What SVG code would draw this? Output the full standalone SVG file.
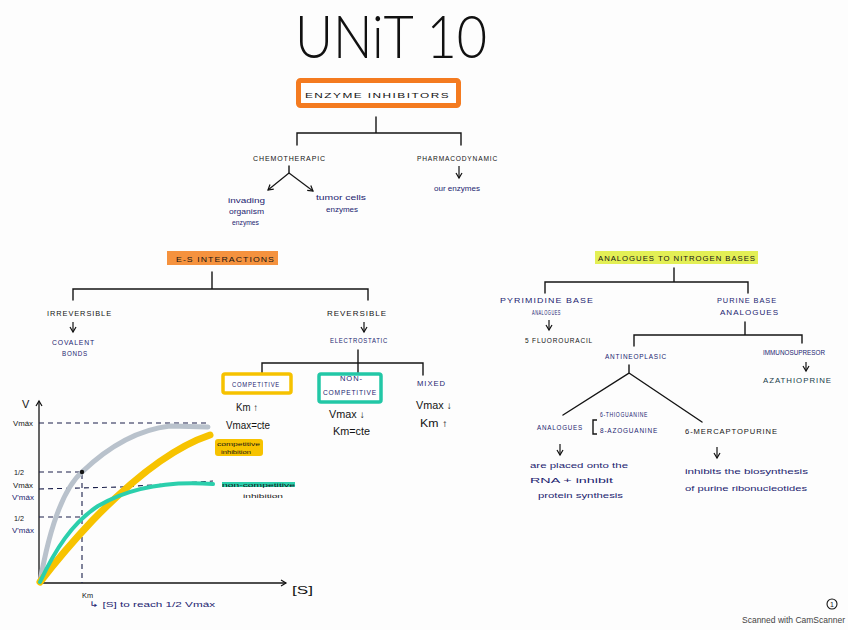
<svg xmlns="http://www.w3.org/2000/svg" width="848" height="630" viewBox="0 0 848 630">
<defs>
<marker id="ah" markerWidth="8" markerHeight="8" refX="6" refY="4" orient="auto" markerUnits="userSpaceOnUse">
<path d="M1,1 L6,4 L1,7" fill="none" stroke="#111" stroke-width="1.2"/>
</marker>
<style>
text{font-family:"Liberation Sans",Arial,sans-serif;}
.k{fill:#141414;}
.b{fill:#1c2470;}
.cap{font-size:8px;letter-spacing:1px;}
.hw{font-size:8px;}
.mid{font-size:10px;}
.ln{fill:none;stroke:#141414;stroke-width:1.4;stroke-linecap:round;}
.ar{fill:none;stroke:#141414;stroke-width:1.2;marker-end:url(#ah);}
.dash{fill:none;stroke:#1a1f4a;stroke-width:1.1;stroke-dasharray:5 4;}
</style>
</defs>
<rect width="848" height="630" fill="#fdfdfd"/>

<g id="title"><text x="391" y="58" fill="#111" font-size="60" font-weight="300" style="font-family:Lato,'Open Sans','Liberation Sans',sans-serif" text-anchor="middle" textLength="192" lengthAdjust="spacingAndGlyphs">UNiT 10</text></g>

<g id="connectors">
<path class="ln" d="M376,117 V133 M297,145 V133 H461 V145"/>
<path class="ln" d="M289,166 V173"/>
<path class="ar" d="M289,173 L268,190"/>
<path class="ar" d="M289,173 L313,191"/>
<path class="ar" d="M459,166 V178"/>
<path class="ln" d="M212,272 V289 M73,300 V289 H368 V300"/>
<path class="ar" d="M73,322 V332"/>
<path class="ar" d="M364,322 V332"/>
<path class="ln" d="M358,350 V373 M262,373 V363 H423 V375"/>
<path class="ln" d="M674,268 V282 M545,293 V282 H748 V293"/>
<path class="ar" d="M549,320 V330"/>
<path class="ln" d="M745,322 V335 M634,346 V335 H802 V343"/>
<path class="ar" d="M806,362 V371"/>
<path class="ln" d="M629,365 V373 L563,415 M629,373 L702,422"/>
<path class="ar" d="M560,444 V455"/>
<path class="ar" d="M717,447 V458"/>
</g>

<g id="enzyme-inhibitors">
<rect x="298.5" y="80.5" width="160" height="25" rx="2" fill="#fff" stroke="#f47b20" stroke-width="5"/>
<text x="305" y="98" class="k cap" textLength="145" lengthAdjust="spacingAndGlyphs">ENZYME INHIBITORS</text>
</g>
<g id="chemotherapic"><text x="253" y="161" class="k cap" textLength="73" lengthAdjust="spacingAndGlyphs">CHEMOTHERAPIC</text></g>
<g id="pharmacodynamic"><text x="417" y="161" class="k cap" textLength="81" lengthAdjust="spacingAndGlyphs">PHARMACODYNAMIC</text></g>
<g id="invading">
<text x="228" y="203" class="b hw" textLength="37" lengthAdjust="spacingAndGlyphs">invading</text>
<text x="229" y="214" class="b hw" textLength="35" lengthAdjust="spacingAndGlyphs">organism</text>
<text x="232" y="225" class="b hw" textLength="27" lengthAdjust="spacingAndGlyphs">enzymes</text>
</g>
<g id="tumor">
<text x="316" y="200" class="b hw" textLength="50" lengthAdjust="spacingAndGlyphs">tumor cells</text>
<text x="326" y="212" class="b hw" textLength="32" lengthAdjust="spacingAndGlyphs">enzymes</text>
</g>
<g id="our-enzymes"><text x="434" y="191" class="b hw" textLength="46" lengthAdjust="spacingAndGlyphs">our enzymes</text></g>

<g id="es-interactions">
<rect x="167" y="251" width="111" height="14" fill="#f5923e"/>
<text x="176" y="262" class="k cap" textLength="99" lengthAdjust="spacingAndGlyphs">E-S INTERACTIONS</text>
</g>
<g id="irreversible"><text x="47" y="316" class="k cap" textLength="65" lengthAdjust="spacingAndGlyphs">IRREVERSIBLE</text></g>
<g id="covalent">
<text x="52" y="345" class="b cap" font-size="7" textLength="43" lengthAdjust="spacingAndGlyphs">COVALENT</text>
<text x="62" y="356" class="b cap" font-size="7" textLength="26" lengthAdjust="spacingAndGlyphs">BONDS</text>
</g>
<g id="reversible"><text x="327" y="316" class="k cap" textLength="60" lengthAdjust="spacingAndGlyphs">REVERSIBLE</text></g>
<g id="electrostatic"><text x="330" y="343" class="b cap" font-size="7" textLength="58" lengthAdjust="spacingAndGlyphs">ELECTROSTATIC</text></g>

<g id="competitive">
<rect x="223" y="374" width="68" height="19" rx="2" fill="#fff" stroke="#f6c200" stroke-width="3.5"/>
<text x="232" y="387" class="b cap" font-size="7" textLength="48" lengthAdjust="spacingAndGlyphs">COMPETITIVE</text>
<text x="236" y="411" class="k mid" textLength="22" lengthAdjust="spacingAndGlyphs">Km ↑</text>
<text x="226" y="429" class="k mid" textLength="44" lengthAdjust="spacingAndGlyphs">Vmax=cte</text>
</g>
<g id="non-competitive">
<rect x="319" y="374" width="62" height="28" rx="2" fill="#fff" stroke="#22c7a6" stroke-width="3.5"/>
<text x="340" y="381" class="b cap" font-size="7" textLength="23" lengthAdjust="spacingAndGlyphs">NON-</text>
<text x="323" y="395" class="b cap" font-size="7" textLength="54" lengthAdjust="spacingAndGlyphs">COMPETITIVE</text>
<text x="329" y="418" class="k mid" textLength="36" lengthAdjust="spacingAndGlyphs">Vmax ↓</text>
<text x="333" y="435" class="k mid" textLength="37" lengthAdjust="spacingAndGlyphs">Km=cte</text>
</g>
<g id="mixed">
<text x="417" y="386" class="b cap" font-size="7" textLength="29" lengthAdjust="spacingAndGlyphs">MIXED</text>
<text x="416" y="409" class="k mid" textLength="36" lengthAdjust="spacingAndGlyphs">Vmax ↓</text>
<text x="420" y="427" class="k mid" textLength="28" lengthAdjust="spacingAndGlyphs">Km ↑</text>
</g>

<g id="graph">
<path d="M39,583 V401" fill="none" stroke="#141414" stroke-width="1.3" marker-end="url(#ah)"/>
<path d="M39,583 H286" fill="none" stroke="#141414" stroke-width="1.3" marker-end="url(#ah)"/>
<path class="dash" d="M39,423 H210"/>
<path class="dash" d="M39,472 H82 V583"/>
<path class="dash" d="M39,489 L120,487 L213,481"/>
<path class="dash" d="M39,517 H82"/>
<path d="M40,582 C50,525 64,488 82,472 C105,450 135,430 170,426 L208,427" fill="none" stroke="#b9c2cc" stroke-width="5" stroke-linecap="round"/>
<path d="M40,582 C60,556 76,538 92,521 C122,490 165,450 210,435" fill="none" stroke="#f7c300" stroke-width="7" stroke-linecap="round"/>
<path d="M40,582 C55,550 72,523 98,506 C132,486 172,481 213,484" fill="none" stroke="#2bcfac" stroke-width="4" stroke-linecap="round"/>
<circle cx="82" cy="472" r="2.2" fill="#141414"/>
<text x="22" y="408" class="k" font-size="11">V</text>
<text x="13" y="426" class="k hw" font-size="7" textLength="20" lengthAdjust="spacingAndGlyphs">Vmáx</text>
<text x="14" y="475" class="k hw" font-size="7" textLength="10" lengthAdjust="spacingAndGlyphs">1/2</text>
<text x="13" y="488" class="k hw" font-size="7" textLength="20" lengthAdjust="spacingAndGlyphs">Vmáx</text>
<text x="12" y="500" class="b hw" font-size="7" textLength="22" lengthAdjust="spacingAndGlyphs">V'máx</text>
<text x="14" y="521" class="k hw" font-size="7" textLength="10" lengthAdjust="spacingAndGlyphs">1/2</text>
<text x="12" y="533" class="b hw" font-size="7" textLength="22" lengthAdjust="spacingAndGlyphs">V'máx</text>
<text x="82" y="598" class="k hw" textLength="11" lengthAdjust="spacingAndGlyphs">Km</text>
<text x="89" y="607" class="b hw" font-size="7.5" textLength="126" lengthAdjust="spacingAndGlyphs">↳ [S] to reach 1/2 Vmáx</text>
<text x="292" y="594" class="k" font-size="11" textLength="21" lengthAdjust="spacingAndGlyphs">[S]</text>
<rect x="215" y="439" width="48" height="17" rx="3" fill="#f7c300"/>
<text x="217" y="446" class="k" font-size="5.5" textLength="43" lengthAdjust="spacingAndGlyphs">competitive</text>
<text x="221" y="454" class="k" font-size="5.5" textLength="30" lengthAdjust="spacingAndGlyphs">inhibition</text>
<rect x="222" y="482" width="73" height="5" fill="#2bcfac"/>
<text x="222" y="487" class="k" font-size="5.5" textLength="73" lengthAdjust="spacingAndGlyphs">non-competitive</text>
<text x="243" y="498" class="k" font-size="5.5" textLength="40" lengthAdjust="spacingAndGlyphs">inhibition</text>
</g>

<g id="analogues-nitrogen">
<rect x="595" y="251" width="163" height="13" fill="#e3ef55"/>
<text x="598" y="261" class="k cap" font-size="7" textLength="158" lengthAdjust="spacingAndGlyphs">ANALOGUES TO NITROGEN BASES</text>
</g>
<g id="pyrimidine">
<text x="500" y="303" class="b cap" font-size="7" textLength="94" lengthAdjust="spacingAndGlyphs">PYRIMIDINE BASE</text>
<text x="532" y="315" class="b cap" font-size="6" textLength="29" lengthAdjust="spacingAndGlyphs">ANALOGUES</text>
</g>
<g id="fluorouracil"><text x="525" y="343" class="k cap" font-size="9" textLength="68" lengthAdjust="spacingAndGlyphs">5 FLUOROURACIL</text></g>
<g id="purine">
<text x="717" y="303" class="b cap" font-size="7" textLength="60" lengthAdjust="spacingAndGlyphs">PURINE BASE</text>
<text x="720" y="315" class="b cap" font-size="6" textLength="59" lengthAdjust="spacingAndGlyphs">ANALOGUES</text>
</g>
<g id="antineoplasic"><text x="605" y="359" class="b cap" font-size="6" textLength="62" lengthAdjust="spacingAndGlyphs">ANTINEOPLASIC</text></g>
<g id="immunosupresor"><text x="763" y="355" class="b" font-size="6.5" textLength="62" lengthAdjust="spacingAndGlyphs">IMMUNOSUPRESOR</text></g>
<g id="azathioprine"><text x="763" y="383" class="cap" fill="#16404a" font-size="8" textLength="69" lengthAdjust="spacingAndGlyphs">AZATHIOPRINE</text></g>
<g id="analogues">
<text x="537" y="430" class="b cap" font-size="6" textLength="46" lengthAdjust="spacingAndGlyphs">ANALOGUES</text>
<path d="M597,420 H593 V434 H597" fill="none" stroke="#141414" stroke-width="1.4"/>
<text x="600" y="417" class="b cap" font-size="5.5" textLength="48" lengthAdjust="spacingAndGlyphs">6-THIOGUANINE</text>
<text x="600" y="433" class="b cap" font-size="5.5" textLength="58" lengthAdjust="spacingAndGlyphs">8-AZOGUANINE</text>
</g>
<g id="mercaptopurine"><text x="685" y="434" class="k cap" textLength="93" lengthAdjust="spacingAndGlyphs">6-MERCAPTOPURINE</text></g>
<g id="rna-note">
<text x="530" y="468" class="b hw" textLength="98" lengthAdjust="spacingAndGlyphs">are placed onto the</text>
<text x="530" y="483" class="b hw" textLength="83" lengthAdjust="spacingAndGlyphs">RNA + inhibit</text>
<text x="538" y="498" class="b hw" textLength="85" lengthAdjust="spacingAndGlyphs">protein synthesis</text>
</g>
<g id="purine-note">
<text x="685" y="474" class="b hw" textLength="123" lengthAdjust="spacingAndGlyphs">inhibits the biosynthesis</text>
<text x="685" y="491" class="b hw" textLength="122" lengthAdjust="spacingAndGlyphs">of purine ribonucleotides</text>
</g>
<g id="page">
<circle cx="832" cy="604" r="5" fill="none" stroke="#141414" stroke-width="1.1"/>
<text x="832" y="607" class="k" font-size="7" text-anchor="middle">1</text>
<text x="742" y="623" fill="#444" font-size="8.5">Scanned with CamScanner</text>
</g>
</svg>
